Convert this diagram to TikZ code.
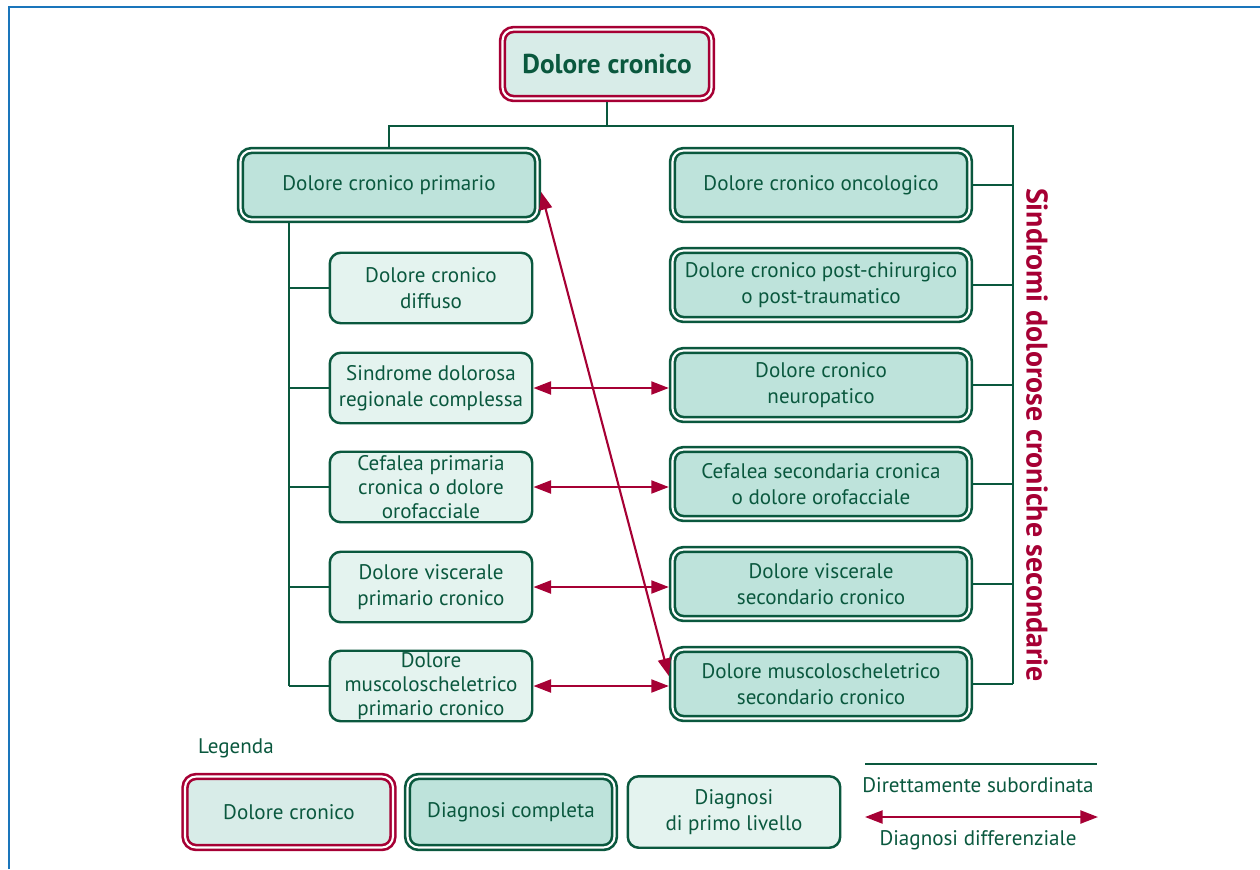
\documentclass[tikz,border=0pt]{standalone}
\usepackage{fontspec}
\setmainfont{PT Sans}
\usetikzlibrary{arrows.meta, positioning, calc}
\definecolor{dgreen}{RGB}{10,88,62}
\definecolor{fullfill}{RGB}{190,227,219}
\definecolor{firstfill}{RGB}{228,243,239}
\definecolor{rootfill}{RGB}{216,236,232}
\definecolor{wine}{RGB}{166,0,52}
\definecolor{frame}{RGB}{26,117,187}

\tikzset{
  rootbox/.style={draw=wine, double=white, double distance=1.2pt, line width=1.5pt,
    fill=rootfill, rounded corners=0.22cm, align=center, text=dgreen, outer sep=2.1pt},
  fullbox/.style={draw=dgreen, double=white, double distance=1.2pt, line width=1.5pt,
    fill=fullfill, rounded corners=0.22cm, align=center, text=dgreen, outer sep=2.1pt,
    minimum width=5.94cm, minimum height=1.38cm, inner ysep=1pt},
  firstbox/.style={draw=dgreen, line width=1.4pt, fill=firstfill, rounded corners=0.22cm,
    align=center, text=dgreen, minimum width=4.05cm, minimum height=1.41cm, inner ysep=1pt},
  three/.style={font=\fontsize{12}{13.6}\selectfont},
  sub/.style={dgreen, line width=1.1pt},
  diff/.style={wine, line width=1.2pt, {Triangle[length=10pt,width=7.4pt]}-{Triangle[length=10pt,width=7.4pt]}}
}

\begin{document}
\begin{tikzpicture}[x=0.02cm, y=-0.02cm, font=\fontsize{12}{14.6}\selectfont]
    \useasboundingbox (0,0) rectangle (1260,869);
    % frame
    \draw[frame, line width=1.2pt] (9,869) -- (9,7) -- (1260,7);

    % root
    \node[rootbox, minimum width=4.18cm, minimum height=1.38cm,
          font=\fontsize{15.5}{17}\selectfont\bfseries] (root) at (607,64) {Dolore cronico};

    % primary branch
    \node[fullbox] (prim) at (389,185) {Dolore cronico primario};
    \node[firstbox] (diffuso) at (431,288) {Dolore cronico\\diffuso};
    \node[firstbox] (crps)    at (431,388) {Sindrome dolorosa\\regionale complessa};
    \node[firstbox, three] (cefp) at (431,487) {Cefalea primaria\\cronica o dolore\\orofacciale};
    \node[firstbox] (viscp)   at (431,587) {Dolore viscerale\\primario cronico};
    \node[firstbox, three] (muscp) at (431,686) {Dolore\\muscoloscheletrico\\primario cronico};

    % secondary syndromes
    \node[fullbox] (onco)   at (821,185) {Dolore cronico oncologico};
    \node[fullbox] (postop) at (821,285) {Dolore cronico post-chirurgico\\o post-traumatico};
    \node[fullbox] (neuro)  at (821,385) {Dolore cronico\\neuropatico};
    \node[fullbox] (cefs)   at (821,484) {Cefalea secondaria cronica\\o dolore orofacciale};
    \node[fullbox] (viscs)  at (821,584) {Dolore viscerale\\secondario cronico};
    \node[fullbox] (muscs)  at (821,684) {Dolore muscoloscheletrico\\secondario cronico};
    \node[wine, rotate=-90, font=\fontsize{17}{19}\selectfont\bfseries] (sec) at (1037,435)
      {Sindromi dolorose croniche secondarie};

    % subordination lines
    \coordinate (bar) at (607,126);
    \coordinate (rtop) at (1013,126);
    \draw[sub] (root.south) -- (bar);
    \draw[sub] (prim.north) |- (rtop) -- (rtop |- muscs);
    \foreach \n in {onco,postop,neuro,cefs,viscs,muscs}
      \draw[sub] (\n.east) -- (\n.east -| rtop);
    \coordinate (ltop) at ([xshift=-2cm]prim.south);
    \draw[sub] (ltop) -- (ltop |- muscp);
    \foreach \n in {diffuso,crps,cefp,viscp,muscp}
      \draw[sub] (\n.west) -- (\n.west -| ltop);

    % differential diagnosis
    \draw[diff] (crps.east) -- (crps.east -| neuro.west);
    \draw[diff] (cefp.east) -- (cefp.east -| cefs.west);
    \draw[diff] (viscp.east) -- (viscp.east -| viscs.west);
    \draw[diff] (muscp.east) -- (muscp.east -| muscs.west);
    \draw[diff] ([yshift=-0.14cm]prim.east) -- ([yshift=0.16cm]muscs.west);

    % legend
    \node[text=dgreen, anchor=west] (leg) at (192,748) {Legenda};
    \node[rootbox, minimum width=4.16cm, minimum height=1.42cm] (lroot) at (289,812) {Dolore cronico};
    \node[fullbox, minimum width=4.14cm, minimum height=1.42cm] (lfull) at (511,812) {Diagnosi completa};
    \node[firstbox, minimum width=4.25cm, minimum height=1.43cm] (lfirst) at (734,812) {Diagnosi\\di primo livello};
    \coordinate (ls1) at (865,764);
    \coordinate (ls2) at (1097,764);
    \draw[sub] (ls1) -- (ls2);
    \node[text=dgreen] (lsub) at (978,785) {Direttamente subordinata};
    \coordinate (ld1) at (865,817);
    \coordinate (ld2) at (1098,817);
    \draw[diff] (ld1) -- (ld2);
    \node[text=dgreen] (ldiff) at (978,840) {Diagnosi differenziale};
\end{tikzpicture}
\end{document}
